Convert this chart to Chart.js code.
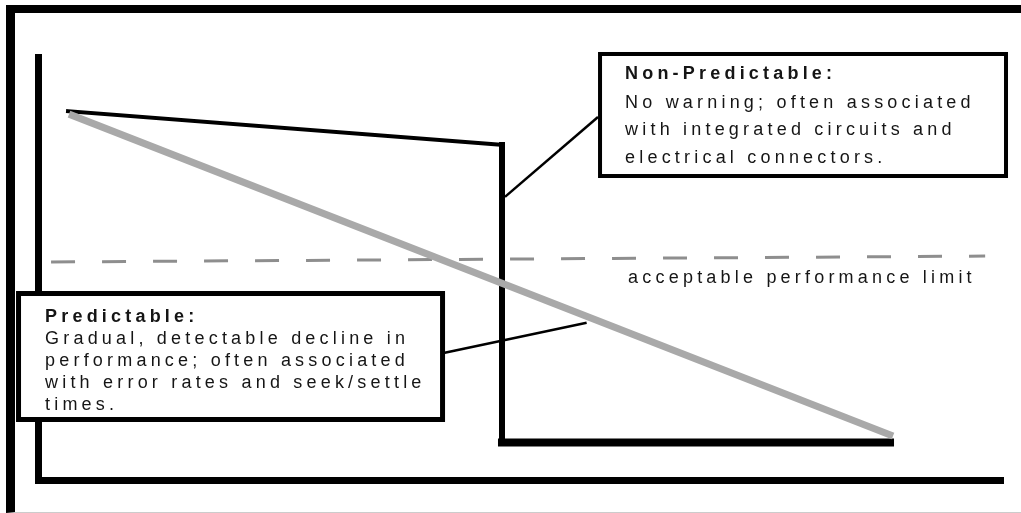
<!DOCTYPE html>
<html>
<head>
<meta charset="utf-8">
<script src="https://cdn.jsdelivr.net/npm/chart.js@4.4.1/dist/chart.umd.min.js"></script>
<style>
    html, body { margin: 0; padding: 0; background: #fff; }
    #frame {
        position: absolute; left: 6px; top: 5px; width: 1015px; height: 508px;
        box-sizing: border-box;
        border-top: 8px solid #000; border-left: 9px solid #000; border-bottom: 1px solid #ccc;
    }
    #wrap { position: absolute; left: 0; top: 0; width: 1021px; height: 513px; }
</style>
</head>
<body>
<div id="frame"></div>
<div id="wrap"><canvas id="chart"></canvas></div>
<script>
// -----------------------------
// Données (temps 0-100, performance 0-100)
// -----------------------------
const nonPredX = [3.06, 48.03, 48.03, 88.24];
const nonPredY = [87.3, 79.3, 8.9, 8.9];

const predX = [3.16, 88.55];
const predY = [86.6, 10.4];

const limitX = [1.3, 98.1];
const limitY = [51.6, 53.0];

const leaderNonPredX = [57.98, 48.34];
const leaderNonPredY = [85.9, 67.0];
const leaderPredX = [42.1, 56.8];
const leaderPredY = [30.1, 37.2];

const limitLabel = "acceptable performance limit";
const nonPredTitle = "Non-Predictable:";
const nonPredLines = ["No warning; often associated", "with integrated circuits and", "electrical connectors."];
const predTitle = "Predictable:";
const predLines = ["Gradual, detectable decline in", "performance; often associated", "with error rates and seek/settle", "times."];

function pts(xs, ys) {
    return xs.map((x, i) => ({ x: x, y: ys[i] }));
}

// -----------------------------
// Encadrés + textes
// -----------------------------
const boxes = [
    { x1: 58.19, x2: 100.26, y1: 100.83, y2: 71.95, lw: 4, dx: 25, title: nonPredTitle, lines: nonPredLines, t0: 25, first: 54, step: 27.5 },
    { x1: -2.07, x2: 41.87, y1: 44.14, y2: 14.32, lw: 5, dx: 26.5, title: predTitle, lines: predLines, t0: 28.5, first: 50.5, step: 22 }
];

const FONT = '18px "Liberation Sans", Arial, sans-serif';
const FONT_B = 'bold 18px "Liberation Sans", Arial, sans-serif';

const notesPlugin = {
    id: "notes",
    afterDatasetsDraw(chart) {
        const ctx = chart.ctx;
        const sx = chart.scales.x, sy = chart.scales.y;
        ctx.save();
        ctx.letterSpacing = "4.2px";
        ctx.textBaseline = "alphabetic";

        boxes.forEach(b => {
            const l = sx.getPixelForValue(b.x1), r = sx.getPixelForValue(b.x2);
            const t = sy.getPixelForValue(b.y1), bt = sy.getPixelForValue(b.y2);
            ctx.fillStyle = "#fff";
            ctx.fillRect(l, t, r - l, bt - t);
            ctx.strokeStyle = "#000";
            ctx.lineWidth = b.lw;
            ctx.strokeRect(l, t, r - l, bt - t);

            ctx.fillStyle = "#151515";
            ctx.font = FONT_B;
            ctx.fillText(b.title, l + b.dx, t + b.t0);
            ctx.font = FONT;
            b.lines.forEach((line, i) => {
                ctx.fillText(line, l + b.dx, t + b.first + i * b.step);
            });
        });

        ctx.fillStyle = "#151515";
        ctx.font = FONT;
        ctx.fillText(limitLabel, sx.getPixelForValue(61.1), sy.getPixelForValue(46.6));
        ctx.restore();
    }
};

// -----------------------------
// Graphique
// -----------------------------
const widths = [4, 6, 8];

const axisOpts = {
    type: "linear", min: 0, max: 100,
    ticks: { display: false, padding: 0 },
    grid: { display: false, drawTicks: false, tickLength: 0 },
    border: { display: true, color: "#000", width: 7 }
};

new Chart(document.getElementById("chart"), {
    type: "line",
    data: {
        datasets: [
            {
                data: pts(predX, predY),
                borderColor: "#a9a9a9",
                borderWidth: 7,
                pointRadius: 0
            },
            {
                data: pts(nonPredX, nonPredY),
                borderColor: "#000",
                borderWidth: 6,
                borderCapStyle: "square",
                pointRadius: 0,
                segment: { borderWidth: c => widths[c.p0DataIndex] }
            },
            {
                data: pts(limitX, limitY),
                borderColor: "#8e8e8e",
                borderWidth: 3,
                borderDash: [24, 27],
                pointRadius: 0
            },
            {
                data: pts(leaderNonPredX, leaderNonPredY),
                borderColor: "#000",
                borderWidth: 2.5,
                pointRadius: 0
            },
            {
                data: pts(leaderPredX, leaderPredY),
                borderColor: "#000",
                borderWidth: 2.5,
                pointRadius: 0
            }
        ]
    },
    options: {
        responsive: true,
        maintainAspectRatio: false,
        animation: false,
        layout: { padding: { left: 38.5, top: 57.5, right: 17.5, bottom: 33 } },
        plugins: { legend: { display: false }, tooltip: { enabled: false } },
        scales: {
            x: axisOpts,
            y: axisOpts
        }
    },
    plugins: [notesPlugin]
});
</script>
</body>
</html>
